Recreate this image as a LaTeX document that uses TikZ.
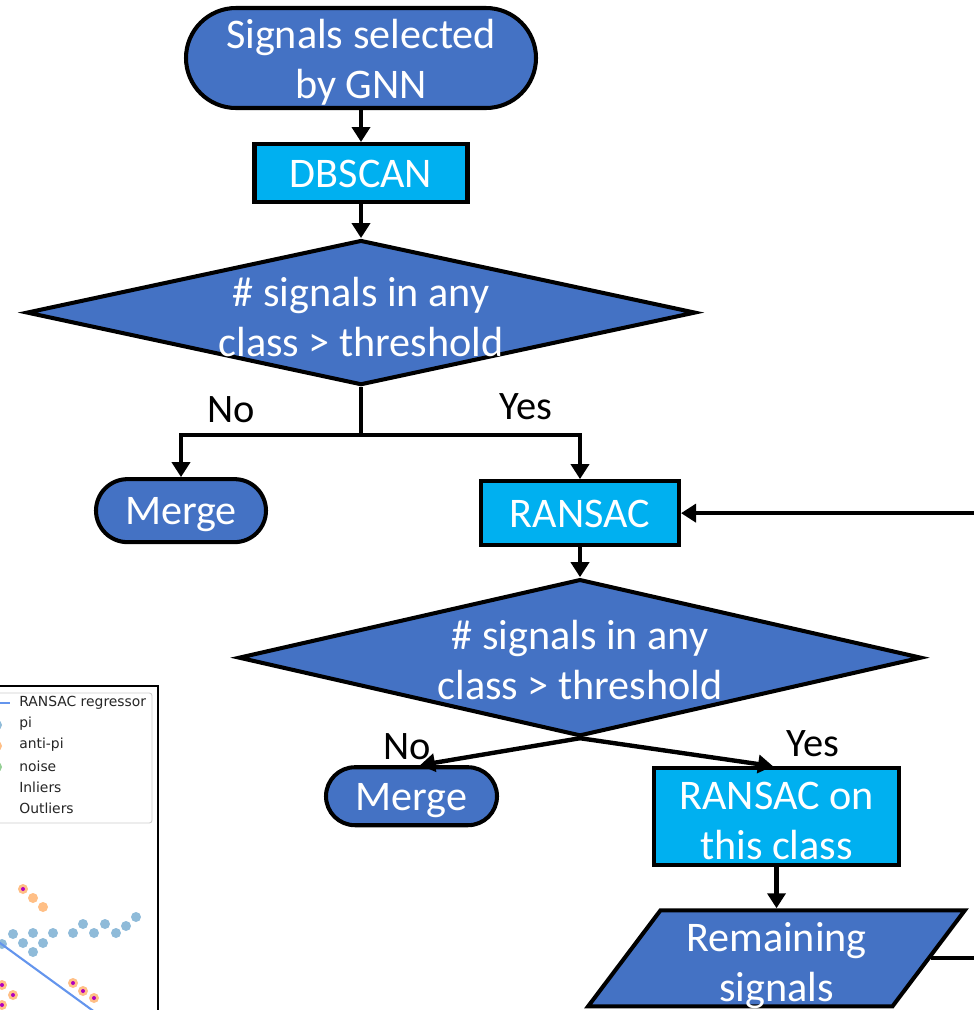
\documentclass[tikz,border=0pt]{standalone}
\usepackage{fontspec}
\setmainfont{Carlito}
\newfontfamily\plotfont{DejaVu Sans}
\usepackage{tikz}
\usetikzlibrary{arrows.meta,positioning,shapes.geometric,shapes.misc}
\definecolor{flowblue}{RGB}{68,114,196}
\definecolor{flowcyan}{RGB}{0,176,240}
\definecolor{ransacline}{RGB}{100,149,237}
\definecolor{pidot}{RGB}{143,187,217}
\definecolor{antidot}{RGB}{255,191,134}
\definecolor{noisedot}{RGB}{149,207,149}
\definecolor{outlier}{RGB}{176,0,192}

\begin{document}
\begin{tikzpicture}[
    x=0.2mm, y=-0.2mm,
    font=\fontsize{24}{28.5}\selectfont,
    terminal/.style={draw, rounded rectangle, fill=flowblue, text=white, line width=2.3pt, inner sep=0pt, text height=0.66cm, text depth=0.1cm},
    process/.style={draw, rectangle, fill=flowcyan, text=white, line width=2.3pt, inner sep=0pt, text height=0.66cm, text depth=0.1cm},
    decision/.style={draw, diamond, fill=flowblue, line width=2.3pt, inner sep=0pt},
    io/.style={draw, trapezium, trapezium left angle=53, trapezium right angle=127, fill=flowblue, line width=2.3pt, inner xsep=2.32cm, inner ysep=0.96cm},
    intext/.style={text=white, align=center, inner sep=0pt},
    lbl/.style={text=black, inner sep=0pt, font=\fontsize{23}{28}\selectfont},
    line/.style={line width=2.5pt},
    arr/.style={-{Triangle[length=0.3cm, width=0.36cm]}, line width=2.5pt}
]
\useasboundingbox (0,0) rectangle (974,1010);
\clip (0,0) rectangle (974,1010);

% plot fragment on the left
\begin{scope}[font=\plotfont\fontsize{7.9}{9}\selectfont]
\draw[line width=0.6pt] (-10,686) -- (158,686) -- (158,1030);
\draw[draw=black!20, fill=white, rounded corners=1.5pt, line width=0.5pt] (-10,693) rectangle (152,823);
\draw[ransacline, line width=1.2pt] (-20,703) -- (10,703);
\fill[pidot] (-3,725) circle (5);
\fill[antidot] (-3,746) circle (5);
\fill[noisedot] (-3,767) circle (5);
\foreach \t [count=\i] in {RANSAC regressor, pi, anti-pi, noise, Inliers, Outliers}
    \node[anchor=west, inner sep=0pt, text=black!85] (leg\i) at (19,682+21*\i) {\t};
\foreach \p in {(2,944),(13,934),(23,943),(33,933),(33,952),(43,943),(53,933),(73,933),(83,924),(94,933),(105,924),(116,933),(126,926),(136,917)}
    \fill[pidot] \p circle (5);
\foreach \p in {(33,898),(43,907)}
    \fill[antidot] \p circle (5);
\foreach \p in {(23,889),(2,985),(13,995),(2,1005),(73,983),(83,991),(94,998)} {
    \fill[antidot] \p circle (5);
    \fill[outlier] \p circle (2);
}
\draw[ransacline, line width=1.2pt] (-10,935.7) -- (110,1023.1);
\end{scope}

% flowchart
\node[terminal, minimum width=7cm, minimum height=2cm] (start) at (361,58) {};
\node[intext, yshift=-0.09cm] (starttext) at (start) {Signals selected\\by GNN};
\node[process, minimum width=4.26cm, minimum height=1.16cm, below=0.64cm of start] (dbscan) {DBSCAN};
\node[decision, minimum width=13.38cm, minimum height=2.9cm, below=0.68cm of dbscan] (d1) {};
\node[intext, yshift=-0.08cm] (d1text) at (d1) {\# signals in any\\class > threshold};

\node[terminal, minimum width=3.4cm, minimum height=1.26cm, below=1.8cm of d1, xshift=-3.6cm] (merge1) {Merge};
\node[process, minimum width=3.96cm, minimum height=1.28cm, below=1.84cm of d1, xshift=4.38cm] (ransac1) {RANSAC};

\node[decision, minimum width=13.66cm, minimum height=3.14cm, below=0.6cm of ransac1] (d2) {};
\node[intext, yshift=-0.05cm] (d2text) at (d2) {\# signals in any\\class > threshold};

\node[terminal, minimum width=3.42cm, minimum height=1.16cm, below=0.54cm of d2, xshift=-3.37cm] (merge2) {Merge};
\node[process, minimum width=4.9cm, minimum height=1.94cm, below=0.56cm of d2, xshift=3.93cm] (ransac2) {};
\node[intext, yshift=-0.08cm] (ransac2text) at (ransac2) {RANSAC on\\this class};
\node[io, below=0.82cm of ransac2] (remain) {};
\node[intext, yshift=-0.14cm] (remaintext) at (remain) {Remaining\\signals};

\coordinate[below=0.96cm of d1.south] (split1);
\coordinate (loopx) at (1010,0);

\draw[arr] (start) -- (dbscan);
\draw[arr] (dbscan) -- (d1);
\draw[line] (d1.south) -- (split1);
\draw[arr] (split1) -| node[lbl, pos=0.36, above=0.2cm] {No} (merge1);
\draw[arr] (split1) -| node[lbl, pos=0.377, above=0.26cm] {Yes} (ransac1);
\draw[arr] (ransac1) -- (d2);
\draw[arr] (d2.south) -- node[lbl, at end, above=0.06cm, xshift=-0.26cm] {No} ([xshift=0.17cm]merge2.north);
\draw[arr] (d2.south) -- node[lbl, at end, above=0.14cm, xshift=0.8cm] {Yes} ([xshift=-0.07cm]ransac2.north);
\draw[arr] (ransac2) -- (remain);
\draw[arr] (remain.east) -- (remain.east -| loopx) |- (ransac1.east);

\end{tikzpicture}
\end{document}
